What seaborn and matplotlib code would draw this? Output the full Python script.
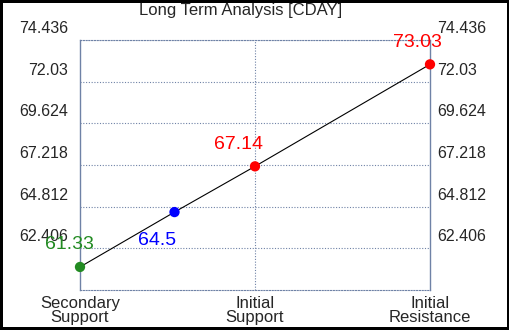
import matplotlib
matplotlib.use("Agg")
import matplotlib.pyplot as plt
import matplotlib.transforms as mtransforms
import seaborn as sns
import pandas as pd

# datos del grafico
categorias = ["Secondary\nSupport", "Initial\nSupport", "Initial\nResistance"]
pos_puntos = [0, 0.54, 1, 2]
valores = [61.33, 64.5, 67.14, 73.03]
colores = ["#228B22", "#0000FF", "#FF0000", "#FF0000"]
etiquetas = ["61.33", "64.5", "67.14", "73.03"]
ticks_y = [62.406, 64.812, 67.218, 69.624, 72.03, 74.436]
ticks_y_txt = ["62.406", "64.812", "67.218", "69.624", "72.03", "74.436"]
titulo = "Long Term Analysis [CDAY]"

sns.set_style("white")
plt.rcParams["font.family"] = ["Liberation Sans", "DejaVu Sans"]

df = pd.DataFrame({"x": pos_puntos, "y": valores})
gris_azul = "#6F82A6"

fig = plt.figure(figsize=(5.1, 3.3), dpi=100, edgecolor="black", linewidth=4)
ax = fig.add_axes([80 / 510, 40 / 330, 350 / 510, 250 / 330])

sns.lineplot(data=df, x="x", y="y", ax=ax, color="black", linewidth=0.8)
sns.scatterplot(data=df, x="x", y="y", ax=ax, hue="x", palette=colores,
                s=55, edgecolor="none", legend=False, zorder=5, clip_on=False)

# etiquetas de valores
desplaz = [(-11, 22), (-17, -28), (-16, 22), (-13, 22)]
for xv, yv, txt, col, d in zip(pos_puntos, valores, etiquetas, colores, desplaz):
    ax.annotate(txt, (xv, yv), xytext=d, textcoords="offset pixels",
                ha="center", va="center", color=col, fontsize=14)

ax.set_xlim(0, 2)
ax.set_ylim(60, 74.436)
ax.set_xticks([0, 1, 2])
ax.set_xticklabels(categorias, fontsize=12, linespacing=0.95)
ax.set_yticks(ticks_y)
ax.set_yticklabels(ticks_y_txt, fontsize=11.5)
ax.set_xlabel("")
ax.set_ylabel("")
ax.tick_params(axis="x", length=0, pad=4)
ax.tick_params(axis="y", length=0, pad=8.6, labelright=True, labelleft=True)

# subir las etiquetas del eje y por encima de la linea
desp1 = mtransforms.ScaledTranslation(0, 0.13, fig.dpi_scale_trans)
desp2 = mtransforms.ScaledTranslation(-0.05, 0.13, fig.dpi_scale_trans)
for t in ax.yaxis.get_major_ticks():
    t.label1.set_transform(t.label1.get_transform() + desp1)
    t.label2.set_transform(t.label2.get_transform() + desp2)

ax.grid(True, axis="y", color=gris_azul, linestyle=(0, (1, 1.5)), linewidth=0.8)
ax.axvline(1, color=gris_azul, linestyle=(0, (1, 1.5)), linewidth=0.8)

for lado in ["left", "right"]:
    ax.spines[lado].set_color(gris_azul)
    ax.spines[lado].set_linewidth(1)
for lado in ["top", "bottom"]:
    ax.spines[lado].set_color(gris_azul)
    ax.spines[lado].set_linestyle((0, (1, 1.5)))
    ax.spines[lado].set_linewidth(0.8)

fig.text(241 / 510, 1 - 10 / 330, titulo, ha="center", va="center", fontsize=12)

fig.savefig("out.png", dpi=100)
